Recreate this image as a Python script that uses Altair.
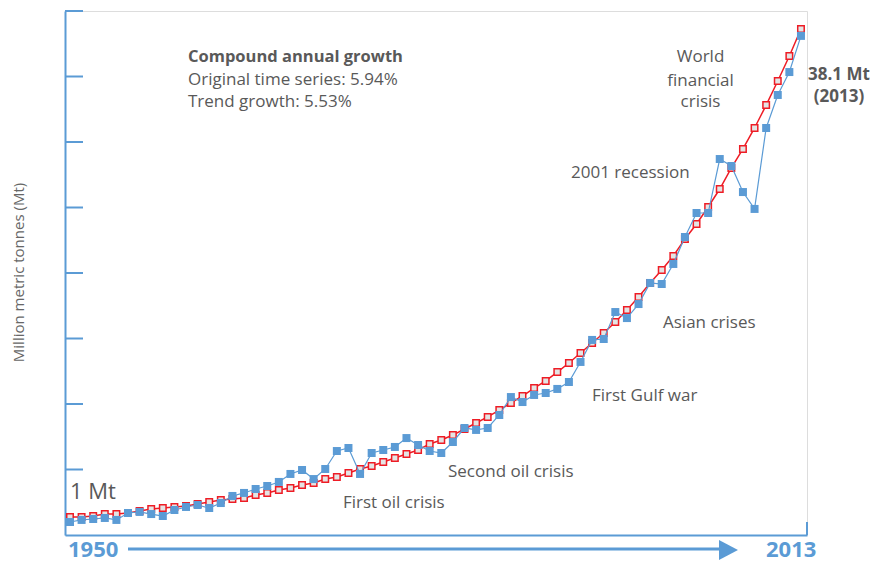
import altair as alt
import pandas as pd

# ---------------- data ----------------
years = list(range(1950, 2014))
original_mt = [0.99, 1.15, 1.22, 1.30, 1.15, 1.68, 1.76, 1.60, 1.45, 1.91,
               2.14, 2.29, 2.06, 2.44, 2.98, 3.21, 3.51, 3.74, 4.05, 4.66,
               4.96, 4.27, 5.04, 6.41, 6.64, 4.66, 6.26, 6.49, 6.72, 7.40,
               6.87, 6.41, 6.26, 7.10, 8.17, 8.02, 8.17, 9.16, 10.53, 10.15,
               10.69, 10.84, 11.15, 11.68, 13.21, 14.89, 14.96, 17.02, 16.56, 17.63,
               19.24, 19.16, 20.69, 22.75, 24.58, 24.58, 28.70, 28.17, 26.18, 24.89,
               31.07, 33.59, 35.34, 38.10]
trend_mt = [1.37, 1.37, 1.45, 1.60, 1.60, 1.68, 1.83, 1.98, 2.06, 2.14,
            2.21, 2.37, 2.52, 2.67, 2.75, 2.82, 3.05, 3.21, 3.44, 3.59,
            3.82, 3.97, 4.27, 4.43, 4.73, 5.04, 5.27, 5.57, 5.88, 6.18,
            6.49, 6.95, 7.25, 7.63, 8.09, 8.55, 9.01, 9.54, 10.08, 10.61,
            11.22, 11.76, 12.44, 13.13, 13.89, 14.66, 15.42, 16.26, 17.18, 18.17,
            19.24, 20.23, 21.30, 22.60, 23.74, 25.04, 26.41, 28.02, 29.47, 31.07,
            32.82, 34.66, 36.56, 38.63]
tick_values = [5, 10, 15, 20, 25, 30, 35, 40]

y_title = "Million metric tonnes (Mt)"
growth_texts = ["Compound annual growth", "Original time series: 5.94%", "Trend growth: 5.53%"]
wfc_texts = ["World", "financial", "crisis"]
end_texts = ["38.1 Mt", "(2013)"]
event_texts = ["2001 recession", "Asian crises", "First Gulf war", "Second oil crisis", "First oil crisis"]
start_label = "1 Mt"
year_labels = ["1950", "2013"]

# ---------------- styles ----------------
BLUE = "#5b9bd5"
RED = "#ee1c25"
GREY = "#595959"
FONT = "Open Sans"

W, H = 742, 524

df = pd.DataFrame({"year": years, "original": original_mt, "trend": trend_mt})

xscale = alt.Scale(domain=[1949.57, 2013.52], nice=False, zero=False)
yscale = alt.Scale(domain=[0, 40], nice=False, zero=True)
xaxis = alt.Axis(title=None, labels=False, ticks=False, grid=False,
                 domainColor=BLUE, domainWidth=2)
yaxis = alt.Axis(title=y_title, labels=False, ticks=False, grid=False,
                 domainColor=BLUE, domainWidth=2,
                 titleX=-47, titleY=261, titleAngle=-90, titleAlign="center",
                 titleBaseline="middle", titleFont=FONT, titleFontSize=15,
                 titleFontWeight="normal", titleColor="#666666")

x_enc = alt.X("year:Q", scale=xscale, axis=xaxis)

base = alt.Chart(df)

trend_line = base.mark_line(color=RED, strokeWidth=1.5).encode(
    x=x_enc, y=alt.Y("trend:Q", scale=yscale, axis=yaxis))
trend_pts = base.mark_point(shape="square", size=42, filled=True, fill="#e4e4e4",
                            stroke=RED, strokeWidth=1.5, opacity=1).encode(
    x=x_enc, y=alt.Y("trend:Q", scale=yscale, axis=yaxis))
orig_line = base.mark_line(color=BLUE, strokeWidth=1.2).encode(
    x=x_enc, y=alt.Y("original:Q", scale=yscale, axis=yaxis))
orig_pts = base.mark_point(shape="square", size=64, filled=True, color=BLUE, opacity=1).encode(
    x=x_enc, y=alt.Y("original:Q", scale=yscale, axis=yaxis))

ticks = alt.Chart(pd.DataFrame({"v": tick_values})).mark_rule(color=BLUE, strokeWidth=2).encode(
    y=alt.Y("v:Q", scale=yscale, axis=yaxis), x=alt.value(0), x2=alt.value(18))

one = pd.DataFrame({"a": [0]})
end_tick = alt.Chart(one).mark_rule(color=BLUE, strokeWidth=2).encode(
    x=alt.value(W), y=alt.value(511), y2=alt.value(H))
arrow_line = alt.Chart(one).mark_rule(color=BLUE, strokeWidth=3).encode(
    x=alt.value(63), x2=alt.value(657), y=alt.value(538))
arrow_head = alt.Chart(one).mark_point(shape="M-0.95,-1L0.95,0L-0.95,1Z", filled=True,
                                       color=BLUE, size=400, opacity=1).encode(
    x=alt.value(663.5), y=alt.value(539))


def label(text, x, y, size=17, weight="normal", color=GREY, align="left"):
    return alt.Chart(pd.DataFrame({"t": [text]})).mark_text(
        font=FONT, fontSize=size, fontWeight=weight, color=color, align=align,
        baseline="alphabetic").encode(x=alt.value(x), y=alt.value(y), text="t:N")


texts = [
    label(growth_texts[0], 123, 50.5, size=16.5, weight="bold"),
    label(growth_texts[1], 123, 74),
    label(growth_texts[2], 123, 96),
    label(wfc_texts[0], 635.5, 51, align="center"),
    label(wfc_texts[1], 635.5, 74.5, align="center"),
    label(wfc_texts[2], 635.5, 96, align="center"),
    label(end_texts[0], 774, 69, weight="bold", align="center"),
    label(end_texts[1], 774, 91, weight="bold", align="center"),
    label(event_texts[0], 506, 167),
    label(event_texts[1], 598, 316.5),
    label(event_texts[2], 527, 390),
    label(event_texts[3], 383, 466),
    label(event_texts[4], 278, 497),
    label(start_label, 5, 488, size=22),
    label(year_labels[0], 3, 546, size=22, weight="bold", color=BLUE),
    label(year_labels[1], 701, 546, size=22, weight="bold", color=BLUE),
]

chart = alt.layer(
    ticks, trend_line, trend_pts, orig_line, orig_pts,
    end_tick, arrow_line, arrow_head, *texts
).properties(
    width=W, height=H,
    autosize=alt.AutoSizeParams(type="none"),
    padding={"left": 57, "top": 3, "right": 64, "bottom": 29},
).configure_view(stroke=None).configure(background="white")

chart.save("out.html", embed_options={"renderer": "svg", "actions": False})
